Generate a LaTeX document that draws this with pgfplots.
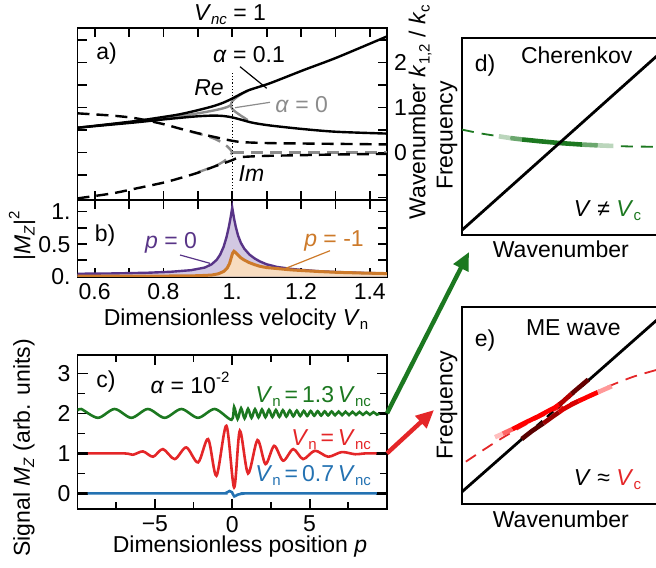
\documentclass[border=0pt]{standalone}
\usepackage{pgfplots}
\pgfplotsset{compat=1.18}
\usetikzlibrary{arrows.meta}
\usepackage{fontspec}
\setmainfont{Liberation Sans}
\definecolor{cpurple}{RGB}{88,52,135}
\definecolor{cpurplefill}{RGB}{210,200,226}
\definecolor{corange}{RGB}{205,122,42}
\definecolor{corangefill}{RGB}{247,220,192}
\definecolor{cgreen}{RGB}{28,120,32}
\definecolor{cred}{RGB}{228,38,40}
\definecolor{cblue}{RGB}{36,114,178}
\definecolor{cgray}{RGB}{140,140,140}
\newcommand{\fs}{\fontsize{11.5}{13}\selectfont}
\newcommand{\sub}[1]{\raisebox{-0.35ex}{\fontsize{7.5}{8}\selectfont #1}}
\newcommand{\sups}[1]{\raisebox{0.9ex}{\fontsize{7.5}{8}\selectfont #1}}
\newcommand{\s}{\hspace{0.17em}}
\pgfplotsset{
  panel/.style={
    scale only axis,
    axis line style={line width=0.9pt},
    every tick/.style={line width=0.9pt, black},
    major tick length=4.5pt,
    minor tick length=3pt,
    tick align=inside,
    /pgf/number format/assume math mode=true,
    ticklabel style={font=\fs},
  },
  schem/.style={
    scale only axis, width=104pt, height=98.5pt,
    xmin=0, xmax=1.0722, ymin=0, ymax=1,
    xtick=\empty, ytick=\empty,
    axis line style={line width=0.9pt},
  },
}
\begin{document}
\begin{tikzpicture}[font=\fs]
% ---------------- panel a
\begin{axis}[panel, at={(38.75pt,-100pt)}, anchor=south west, width=154.75pt, height=86pt,
  xmin=0.55, xmax=1.45, ymin=-1.056, ymax=2.767,
  xtick={0.6,0.7,0.8,0.9,1.0,1.1,1.2,1.3,1.4}, xticklabels={},
  ytick={-1,-0.5,0,0.5,1,1.5,2,2.5}, yticklabels={,,0,,1,,2,}, yticklabel pos=right]
\addplot[cgray, line width=1.2pt, dash pattern=on 6pt off 3.5pt, smooth] coordinates {(0.88,0.46)(0.92,0.38)(0.95,0.3)(0.97,0.22)(0.985,0.14)(0.995,0.06)(1.0,0.0)};
\addplot[cgray, line width=1.2pt, dash pattern=on 6pt off 3.5pt] coordinates {(1.0,0.0)(1.45,0.0)};
\addplot[cgray, line width=1.2pt, dash pattern=on 6pt off 3.5pt, smooth] coordinates {(0.9,-0.44)(0.95,-0.3)(0.975,-0.2)(0.99,-0.1)(1.0,0.0)};
\addplot[black, line width=1.2pt, dash pattern=on 6pt off 3.5pt, smooth] coordinates {(0.55,0.87)(0.65,0.82)(0.72,0.76)(0.8,0.63)(0.848,0.53)(0.9,0.43)(0.945,0.35)(0.975,0.3)(1.0,0.26)(1.03,0.23)(1.1,0.21)(1.2,0.2)(1.45,0.18)};
\addplot[black, line width=1.2pt, dash pattern=on 6pt off 3.5pt, smooth] coordinates {(0.55,-1.02)(0.65,-0.91)(0.72,-0.8)(0.8,-0.67)(0.848,-0.57)(0.9,-0.45)(0.945,-0.32)(0.975,-0.24)(1.0,-0.17)(1.02,-0.11)(1.05,-0.09)(1.1,-0.075)(1.2,-0.06)(1.3,-0.045)(1.45,-0.03)};
\addplot[cgray, line width=1.2pt, smooth] coordinates {(0.6,0.59)(0.72,0.685)(0.8,0.76)(0.85,0.81)(0.9,0.87)(0.94,0.925)(0.97,0.975)(0.985,1.01)(0.996,1.05)};
\addplot[cgray, line width=1.2pt, smooth] coordinates {(1.045,1.37)(1.025,1.29)(1.01,1.21)(1.0,1.14)(0.996,1.05)(1.0,0.97)(1.01,0.9)(1.025,0.82)(1.045,0.72)};
\addplot[black, line width=1.2pt, smooth] coordinates {(0.55,0.55)(0.62,0.61)(0.72,0.7)(0.8,0.79)(0.848,0.85)(0.9,0.94)(0.945,1.03)(0.975,1.11)(1.0,1.2)(1.025,1.3)(1.05,1.39)(1.11,1.54)(1.207,1.83)(1.304,2.11)(1.45,2.58)};
\addplot[black, line width=1.2pt, smooth] coordinates {(0.55,0.55)(0.62,0.6)(0.72,0.67)(0.8,0.735)(0.848,0.77)(0.9,0.805)(0.945,0.82)(0.975,0.81)(1.0,0.78)(1.03,0.72)(1.06,0.66)(1.11,0.6)(1.207,0.52)(1.304,0.46)(1.45,0.42)};
\addplot[black, line width=0.6pt, densely dotted] coordinates {(1,-1.1)(1,1.8)};
\end{axis}
% ---------------- panel b
\begin{axis}[panel, at={(38.75pt,-138.35pt)}, anchor=south west, width=154.75pt, height=38.35pt,
  xmin=0.55, xmax=1.45, ymin=0, ymax=1.176,
  xtick={0.6,0.7,0.8,0.9,1.0,1.1,1.2,1.3,1.4}, xticklabels={0.6,,0.8,,1.,,1.2,,1.4},
  ytick={0,0.25,0.5,0.75,1}, yticklabels={0.,,0.5,,1.}]
\addplot[fill=cpurplefill, draw=none] coordinates {(0.55,0.045)(0.65,0.05)(0.75,0.06)(0.82,0.075)(0.88,0.1)(0.92,0.14)(0.94,0.19)(0.955,0.26)(0.965,0.34)(0.975,0.46)(0.983,0.6)(0.99,0.76)(0.995,0.9)(1.0,1.06)(1.005,0.9)(1.01,0.77)(1.017,0.63)(1.025,0.52)(1.035,0.43)(1.05,0.34)(1.065,0.28)(1.08,0.235)(1.1,0.19)(1.13,0.15)(1.17,0.12)(1.2,0.105)(1.25,0.085)(1.3,0.072)(1.38,0.058)(1.45,0.05)} \closedcycle;
\addplot[fill=corangefill, draw=none] coordinates {(0.55,0.008)(0.8,0.01)(0.9,0.015)(0.94,0.025)(0.96,0.045)(0.975,0.08)(0.985,0.13)(0.992,0.2)(0.997,0.29)(1.001,0.36)(1.005,0.39)(1.01,0.37)(1.017,0.33)(1.025,0.29)(1.035,0.255)(1.05,0.215)(1.065,0.185)(1.08,0.16)(1.1,0.14)(1.13,0.125)(1.17,0.105)(1.2,0.095)(1.25,0.08)(1.3,0.068)(1.38,0.056)(1.45,0.048)} \closedcycle;
\addplot[cpurple, line width=1.2pt] coordinates {(0.55,0.045)(0.65,0.05)(0.75,0.06)(0.82,0.075)(0.88,0.1)(0.92,0.14)(0.94,0.19)(0.955,0.26)(0.965,0.34)(0.975,0.46)(0.983,0.6)(0.99,0.76)(0.995,0.9)(1.0,1.06)(1.005,0.9)(1.01,0.77)(1.017,0.63)(1.025,0.52)(1.035,0.43)(1.05,0.34)(1.065,0.28)(1.08,0.235)(1.1,0.19)(1.13,0.15)(1.17,0.12)(1.2,0.105)(1.25,0.085)(1.3,0.072)(1.38,0.058)(1.45,0.05)};
\addplot[corange, line width=1.5pt] coordinates {(0.55,0.008)(0.8,0.01)(0.9,0.015)(0.94,0.025)(0.96,0.045)(0.975,0.08)(0.985,0.13)(0.992,0.2)(0.997,0.29)(1.001,0.36)(1.005,0.39)(1.01,0.37)(1.017,0.33)(1.025,0.29)(1.035,0.255)(1.05,0.215)(1.065,0.185)(1.08,0.16)(1.1,0.14)(1.13,0.125)(1.17,0.105)(1.2,0.095)(1.25,0.08)(1.3,0.068)(1.38,0.056)(1.45,0.048)};
\end{axis}
% ---------------- panel c
\begin{axis}[panel, at={(38.75pt,-254.5pt)}, anchor=south west, width=154.75pt, height=77pt,
  xmin=-10, xmax=10, ymin=-0.39, ymax=3.46,
  xtick={-5,0,5}, xticklabels={−5,0,5}, minor xtick={-7.5,-2.5,2.5,7.5},
  ytick={0,1,2,3}, yticklabels={0,1,2,3}, minor ytick={0.5,1.5,2.5},
  major tick length=5pt, minor tick length=3.5pt]
\addplot[black, line width=1.3pt] coordinates {(-10,1)(-9.3,1)};
\addplot[black, line width=1.3pt] coordinates {(9.3,1)(10,1)};
\addplot[black, line width=1.3pt] coordinates {(-10,0)(-9.3,0)};
\addplot[black, line width=1.3pt] coordinates {(9.3,0)(10,0)};
\addplot[black, line width=1.3pt] coordinates {(9.4,2)(10,2)};
\addplot[cblue, line width=1.3pt, smooth] coordinates {(-9.35,0)(-1,0)(-0.45,0.005)(-0.18,0.06)(-0.02,0.03)(0.13,-0.075)(0.35,-0.03)(0.7,-0.005)(1.2,0)(9.35,0)};
\addplot[cred, line width=1.3pt, smooth] coordinates {(-9.33,1)(-6.96,1)(-6.42,0.967)(-5.77,1.05)(-5.12,0.917)(-4.48,1.108)(-3.72,0.858)(-2.97,1.15)(-2.21,0.775)(-1.56,1.358)(-1.02,0.442)(-0.38,1.69)(0.12,0.15)(0.49,1.567)(1.02,0.5)(1.63,1.333)(2.15,0.733)(2.71,1.19)(3.29,0.817)(3.94,1.108)(4.58,0.858)(5.34,1.067)(6.2,0.917)(7.07,1.033)(7.93,0.98)(8.6,1)(9.33,1)};
\addplot[cgreen, line width=1.3pt, smooth] coordinates {(-10,2.07)(-9.76,2.11)(-8.68,1.89)(-7.6,2.11)(-6.52,1.89)(-5.45,2.11)(-4.37,1.89)(-3.29,2.11)(-2.21,1.89)(-1.13,2.11)(-0.05,1.84)(0.12,2.16)(0.345,1.86)(0.57,2.13)(0.795,1.875)(1.02,2.115)(1.245,1.89)(1.47,2.105)(1.695,1.9)(1.92,2.098)(2.145,1.905)(2.37,2.092)(2.595,1.91)(2.82,2.086)(3.045,1.915)(3.27,2.08)(3.495,1.922)(3.72,2.075)(3.945,1.928)(4.17,2.07)(4.395,1.932)(4.62,2.064)(4.845,1.937)(5.07,2.06)(5.295,1.942)(5.52,2.056)(5.745,1.946)(5.97,2.052)(6.195,1.95)(6.42,2.048)(6.645,1.953)(6.87,2.045)(7.095,1.957)(7.32,2.042)(7.545,1.96)(7.77,2.04)(7.995,1.962)(8.22,2.037)(8.445,1.965)(8.67,2.035)(8.895,1.967)(9.12,2.033)(9.345,1.969)(9.5,2.0)};
\end{axis}
% ---------------- panel d
\begin{axis}[schem, at={(231pt,-117.5pt)}, anchor=south west]
\addplot[cgreen, line width=0.9pt, dash pattern=on 6pt off 4pt, smooth] coordinates {(0,0.535)(0.1,0.515)(0.2,0.5)(0.3,0.487)(0.4,0.476)(0.5,0.467)(0.6,0.46)(0.7,0.455)(0.8,0.451)(0.9,0.449)(1.0,0.448)(1.0722,0.447)};
\addplot[cgreen!30!white, line width=2.3pt] coordinates {(0.19,0.501)(0.25,0.492)};
\addplot[cgreen!65!white, line width=2.3pt] coordinates {(0.25,0.492)(0.31,0.485)};
\addplot[cgreen, line width=2.3pt] coordinates {(0.31,0.485)(0.4,0.476)(0.5,0.467)(0.62,0.459)};
\addplot[cgreen!65!white, line width=2.3pt] coordinates {(0.62,0.459)(0.7,0.455)};
\addplot[cgreen!30!white, line width=2.3pt] coordinates {(0.7,0.455)(0.78,0.452)};
\addplot[black, line width=1.4pt] coordinates {(0,0.025)(1.0722,0.9685)};
\end{axis}
% ---------------- panel e
\begin{axis}[schem, at={(231pt,-252pt)}, anchor=south west]
\addplot[cred, line width=0.9pt, dash pattern=on 6pt off 4pt, smooth] coordinates {(0.02,0.215)(0.15,0.3)(0.25,0.36)(0.37,0.425)(0.48,0.477)(0.6,0.53)(0.75,0.595)(0.88,0.645)(1.0,0.68)(1.0722,0.70)};
\addplot[black, line width=1.4pt] coordinates {(0,0.062)(0.33,0.348)};
\addplot[black, line width=1.2pt, dash pattern=on 4pt off 3pt] coordinates {(0.33,0.348)(0.62,0.6)};
\addplot[black, line width=1.4pt] coordinates {(0.62,0.6)(1.0722,0.993)};
\addplot[red!35!black, line width=2.3pt] coordinates {(0.308,0.33)(0.36,0.37)(0.42,0.41)};
\addplot[red!60!black, line width=2.3pt] coordinates {(0.42,0.41)(0.479,0.452)(0.5,0.466)};
\addplot[red!85!black, line width=2.3pt] coordinates {(0.5,0.466)(0.52,0.48)(0.565,0.505)(0.6,0.522)};
\addplot[red, line width=2.3pt] coordinates {(0.6,0.522)(0.65,0.545)(0.7,0.567)};
\addplot[red!40!white, line width=2.3pt] coordinates {(0.7,0.567)(0.772,0.598)};
\addplot[red!25!white, line width=2.3pt] coordinates {(0.17,0.339)(0.21,0.357)};
\addplot[red!60!white, line width=2.3pt] coordinates {(0.21,0.357)(0.26,0.38)};
\addplot[red, line width=2.3pt] coordinates {(0.26,0.38)(0.33,0.415)(0.393,0.445)(0.44,0.47)(0.479,0.49)(0.5,0.505)};
\addplot[red!70!black, line width=2.3pt] coordinates {(0.5,0.505)(0.52,0.52)(0.565,0.56)};
\addplot[red!40!black, line width=2.3pt] coordinates {(0.565,0.56)(0.651,0.632)};
\end{axis}
% ---------------- texts (pixel frame)
\begin{scope}[x=0.5pt, y=-0.5pt]
\node[anchor=base] at (230,20.7) {\textit{V}\sub{\textit{nc}} = 1};
\node[anchor=base] at (106.5,60) {a)};
\node[anchor=base] at (249,62.5) {\textit{α} = 0.1};
\node[anchor=base] at (209,95) {\textit{Re}};
\node[anchor=base, text=cgray] at (301.7,112.3) {\textit{α} = 0};
\node[anchor=base] at (251.5,181.7) {\textit{Im}};
\draw[black, line width=0.6pt] (240,66.7) -- (266.7,88.3);
\draw[cgray, line width=0.6pt] (235,107.7) -- (270,102.3);
\node[rotate=90] at (420,112) {Wavenumber \textit{k}\sub{1,2} / \textit{k}\sub{c}};
\node[anchor=base] at (105,241.7) {b)};
\node[anchor=base, text=cpurple] at (171,248.3) {\textit{p} = 0};
\node[anchor=base, text=corange] at (334,246) {\textit{p} = -1};
\draw[cpurple, line width=0.6pt] (180,255) -- (210,263.3);
\draw[corange, line width=0.6pt] (330,250.7) -- (283.3,269.3);
\node[rotate=90] at (22,236) {|\textit{M}\sub{\textit{Z}}|\sups{2}};
\node[anchor=base] at (236,325) {Dimensionless velocity \textit{V}\sub{n}};
\node[anchor=base] at (106,387.3) {c)};
\node[anchor=base] at (190,393.3) {\textit{α} = 10\sups{-2}};
\node[anchor=base east, text=cgreen] at (378,402.7) {\textit{V}\sub{n}\s=\s1.3\s\textit{V}\sub{nc}};
\node[anchor=base east, text=cred] at (378,445) {\textit{V}\sub{n}\s=\s\textit{V}\sub{nc}};
\node[anchor=base east, text=cblue] at (378,481.7) {\textit{V}\sub{n}\s=\s0.7\s\textit{V}\sub{nc}};
\node[rotate=90] at (24,448) {Signal \textit{M}\sub{\textit{Z}} (arb. units)};
\node[anchor=base] at (240,552.7) {Dimensionless position \textit{p}};
\node[anchor=base] at (485,71.7) {d)};
\node[anchor=base] at (576.7,63.3) {Cherenkov};
\node[anchor=base] at (607.5,216.7) {\textit{V} ≠ \textcolor{cgreen}{\textit{V}\sub{c}}};
\node[rotate=90] at (447,135.5) {Frequency};
\node[anchor=base] at (560.8,257.3) {Wavenumber};
\node[anchor=base] at (485,346.7) {e)};
\node[anchor=base] at (573.3,335.7) {ME wave};
\node[anchor=base] at (607.5,485) {\textit{V} ≈ \textcolor{cred}{\textit{V}\sub{c}}};
\node[rotate=90] at (447,405) {Frequency};
\node[anchor=base] at (560.8,527.3) {Wavenumber};
\draw[cgreen, line width=2.2pt, -{Triangle[length=9pt,width=8pt]}] (387,413.3) -- (469,252);
\draw[cred, line width=2.2pt, -{Triangle[length=9pt,width=8pt]}] (387,453.3) -- (434,410);
\end{scope}
\pgfresetboundingbox
\path[use as bounding box] (0pt,0pt) rectangle (328pt,-283.5pt);
\end{tikzpicture}
\end{document}
